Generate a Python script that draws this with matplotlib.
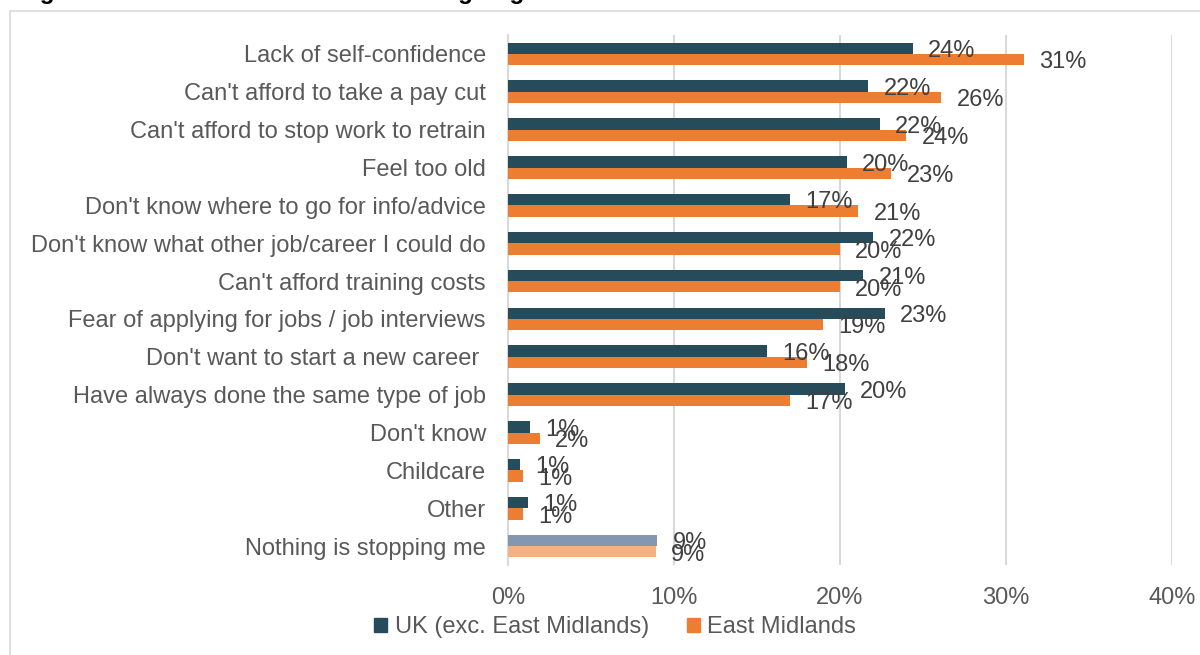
import matplotlib.pyplot as plt
import matplotlib.patches as mpatches
import numpy as np

plt.rcParams['font.family'] = ['Liberation Sans', 'DejaVu Sans']

# barriers to moving job, top to bottom
categories = [
    "Lack of self-confidence",
    "Can't afford to take a pay cut",
    "Can't afford to stop work to retrain",
    "Feel too old",
    "Don't know where to go for info/advice",
    "Don't know what other job/career I could do",
    "Can't afford training costs",
    "Fear of applying for jobs / job interviews",
    "Don't want to start a new career ",
    "Have always done the same type of job",
    "Don't know",
    "Childcare",
    "Other",
    "Nothing is stopping me",
]
uk_vals = [24.4, 21.7, 22.4, 20.4, 17.0, 22.0, 21.4, 22.7, 15.6, 20.3, 1.3, 0.7, 1.2, 9.0]
em_vals = [31.1, 26.1, 24.0, 23.1, 21.1, 20.0, 20.0, 19.0, 18.0, 17.0, 1.9, 0.9, 0.9, 8.9]
series_names = ["UK (exc. East Midlands)", "East Midlands"]

uk_col = "#264B5A"
em_col = "#ED7D31"
uk_light = "#8497B0"
em_light = "#F4B183"
grid_col = "#D9D9D9"
text_col = "#595959"
label_col = "#404040"
fs = 17

fig = plt.figure(figsize=(12, 6.55), dpi=100)
ax = fig.add_axes([508 / 1200, 1 - 565 / 655, 664 / 1200, 530 / 655])

y = np.arange(len(categories))
h = 0.3
uk_colors = [uk_col] * (len(y) - 1) + [uk_light]
em_colors = [em_col] * (len(y) - 1) + [em_light]
ax.barh(y - h / 2, uk_vals, height=h, color=uk_colors, zorder=3)
ax.barh(y + h / 2, em_vals, height=h, color=em_colors, zorder=3)

# value labels just past the end of each bar
for yi, u, e in zip(y, uk_vals, em_vals):
    ax.annotate(f"{u:.0f}%", (u, yi - h / 2), xytext=(11, -2), textcoords="offset points",
                ha="left", va="center", fontsize=fs, color=label_col, zorder=4)
    ax.annotate(f"{e:.0f}%", (e, yi + h / 2), xytext=(11, -2), textcoords="offset points",
                ha="left", va="center", fontsize=fs, color=label_col, zorder=4)

ax.set_xlim(0, 40)
ax.set_ylim(len(y) - 0.5, -0.5)
ax.set_xticks([0, 10, 20, 30, 40])
ax.set_xticklabels([f"{t}%" for t in [0, 10, 20, 30, 40]])
ax.set_yticks(y)
ax.set_yticklabels(categories)
ax.tick_params(axis="both", length=0, labelsize=fs, labelcolor=text_col)
ax.tick_params(axis="x", pad=16)
ax.tick_params(axis="y", pad=16)
ax.grid(axis="x", color=grid_col, linewidth=1.5, zorder=0)
for side in ["top", "right", "bottom"]:
    ax.spines[side].set_visible(False)
ax.spines["left"].set_color(grid_col)
ax.spines["left"].set_linewidth(1.5)

handles = [mpatches.Patch(color=uk_col), mpatches.Patch(color=em_col)]
fig.legend(handles, series_names, loc="center", bbox_to_anchor=(615 / 1200, 1 - 627 / 655),
           ncol=2, frameon=False, fontsize=fs, labelcolor=text_col,
           handlelength=0.55, handleheight=0.55, handletextpad=0.3, columnspacing=1.6)

# chart title sits above the frame
fig.text(18 / 1200, 1.0 + 1 / 655, "Figure 11: The main barriers to adults going into a new career",
         fontsize=17.5, fontweight="bold", color="black", va="baseline", ha="left")

# outer chart frame
fig.patches.append(mpatches.Rectangle((10 / 1200, -0.1), 1.2, 1 - 11 / 655 + 0.1,
                                      transform=fig.transFigure, fill=False,
                                      edgecolor=grid_col, linewidth=1.2))

fig.savefig("out.png", dpi=100)
